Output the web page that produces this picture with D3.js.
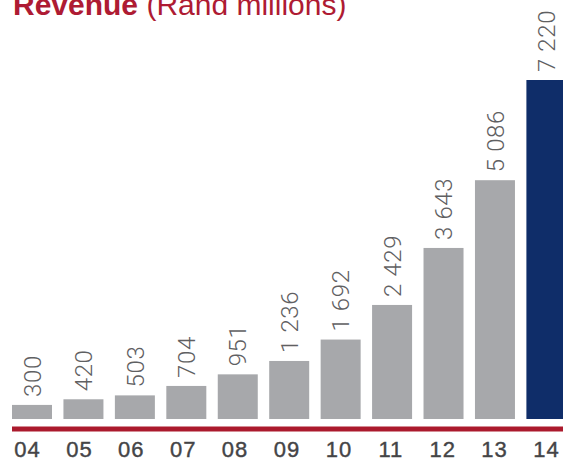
<!DOCTYPE html>
<html>
<head>
<meta charset="utf-8">
<script src="https://cdn.jsdelivr.net/npm/d3@7"></script>
<style>
  html, body { margin: 0; padding: 0; background: #ffffff; }
  svg { display: block; }
</style>
</head>
<body>
<script>
// Revenue by financial year, Rand millions
const years = ["04", "05", "06", "07", "08", "09", "10", "11", "12", "13", "14"];
const revenue = [300, 420, 503, 704, 951, 1236, 1692, 2429, 3643, 5086, 7220];
const valueLabels = ["300", "420", "503", "704", "951", "1 236", "1 692", "2 429", "3 643", "5 086", "7 220"];
const highlightYear = "14";

const width = 563, height = 461;
const baseY = 419;

const svg = d3.select("body").append("svg")
  .attr("width", width)
  .attr("height", height);

const x = d3.scaleBand()
  .domain(years)
  .range([12, 566.4])
  .paddingInner(0.2224)
  .paddingOuter(0);

const y = d3.scaleLinear()
  .domain([0, 7220])
  .range([baseY, 80]);

// Title
const title = svg.append("text")
  .attr("x", 13)
  .attr("y", 15)
  .attr("font-family", "'Liberation Sans', Arial, sans-serif")
  .attr("font-size", 30)
  .attr("fill", "#ae1b33");
title.append("tspan").attr("font-weight", "bold").text("Revenue");
title.append("tspan").attr("font-weight", "normal").text(" (Rand millions)");

// Bars
svg.append("g").selectAll("rect")
  .data(years)
  .join("rect")
  .attr("x", d => x(d))
  .attr("width", x.bandwidth())
  .attr("y", (d, i) => y(revenue[i]))
  .attr("height", (d, i) => baseY - y(revenue[i]))
  .attr("fill", d => d === highlightYear ? "#0f2d69" : "#a7a8ab");

// Value labels, rotated above each bar
svg.append("g").selectAll("text")
  .data(years)
  .join("text")
  .attr("transform", (d, i) =>
    `translate(${x(d) + x.bandwidth() / 2},${y(revenue[i]) - 8}) rotate(-90)`)
  .attr("dy", "0.36em")
  .attr("text-anchor", "start")
  .attr("font-family", "Roboto, 'Liberation Sans', Arial, sans-serif")
  .attr("font-weight", 300)
  .attr("font-size", 24)
  .attr("letter-spacing", 0.6)
  .attr("fill", "#5f6062")
  .text((d, i) => valueLabels[i]);

// Baseline rule
svg.append("rect")
  .attr("x", 12)
  .attr("y", 426.5)
  .attr("width", width - 12)
  .attr("height", 5)
  .attr("fill", "#ab1a2d");

// Year axis labels
const xLabel = d3.scalePoint()
  .domain(years)
  .range([27.5, 546.5]);

svg.append("g").selectAll("text")
  .data(years)
  .join("text")
  .attr("x", d => xLabel(d))
  .attr("y", 457)
  .attr("text-anchor", "middle")
  .attr("font-family", "'Liberation Sans', Arial, sans-serif")
  .attr("font-size", 22)
  .attr("letter-spacing", 1)
  .attr("fill", "#444446")
  .attr("stroke", "#444446")
  .attr("stroke-width", 0.4)
  .text(d => d);
</script>
</body>
</html>
